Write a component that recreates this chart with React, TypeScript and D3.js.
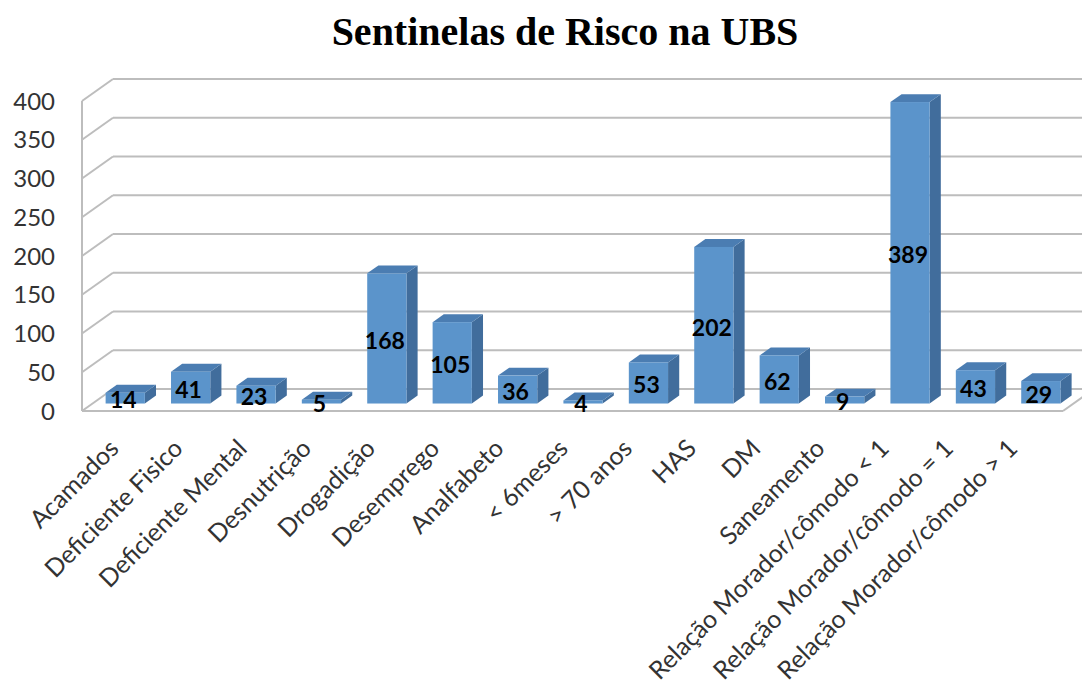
import React from "react";
import * as d3 from "d3";

const categories = [
  "Acamados",
  "Deficiente Fisico",
  "Deficiente Mental",
  "Desnutrição",
  "Drogadição",
  "Desemprego",
  "Analfabeto",
  "< 6meses",
  "> 70 anos",
  "HAS",
  "DM",
  "Saneamento",
  "Relação Morador/cômodo < 1",
  "Relação Morador/cômodo = 1",
  "Relação Morador/cômodo > 1",
];
const values = [14, 41, 23, 5, 168, 105, 36, 4, 53, 202, 62, 9, 389, 43, 29];
const yTicks = [0, 50, 100, 150, 200, 250, 300, 350, 400];
const title = "Sentinelas de Risco na UBS";

const W = 1082;
const H = 692;
const X0 = 82;
const X1 = 1063;
const Y0 = 411;
const Y1 = 101;
const DX = 31;
const DY = 22;
const Z0 = 0.34;
const Z1 = 0.7;

export default function App() {
  const x = d3.scaleBand<string>().domain(categories).range([X0, X1]);
  const xLab = d3.scaleBand<string>().domain(categories).range([84, 1047]);
  const y = d3.scaleLinear().domain([0, 400]).range([Y0, Y1]);
  const bw = x.bandwidth() * 0.6;
  const px = (xx: number, z: number) => xx + z * DX;
  const py = (yy: number, z: number) => yy - z * DY;
  const pts = (arr: [number, number][]) => arr.map((p) => p.join(",")).join(" ");
  const grid = "#bdbdbd";
  const axisFont = "Lato, 'Open Sans', sans-serif";

  return (
    <svg
      width={W}
      height={H}
      style={{ position: "absolute", left: 0, top: 0, background: "#fff" }}
    >
      <rect x={0} y={0} width={W} height={H} fill="#fff" />
      <text
        x={565}
        y={45}
        textAnchor="middle"
        fontFamily="'Liberation Serif', 'Times New Roman', serif"
        fontWeight="bold"
        fontSize={40}
        fill="#000"
      >
        {title}
      </text>
      {/* back wall gridlines + side wall diagonals */}
      {yTicks.map((t) => (
        <g key={"g" + t}>
          <line
            x1={px(X0, 1)}
            x2={W + 40}
            y1={py(y(t), 1)}
            y2={py(y(t), 1)}
            stroke={grid}
            strokeWidth={2}
          />
          <line
            x1={X0}
            y1={y(t)}
            x2={px(X0, 1)}
            y2={py(y(t), 1)}
            stroke={grid}
            strokeWidth={2}
          />
        </g>
      ))}
      {/* left wall front edge */}
      <line x1={X0} x2={X0} y1={y(0)} y2={y(400)} stroke={grid} strokeWidth={2} />
      {/* floor front edge and right edge */}
      <line x1={X0} x2={X1} y1={Y0} y2={Y0} stroke={grid} strokeWidth={2} />
      <line x1={X1} y1={Y0} x2={px(X1, 1)} y2={py(Y0, 1)} stroke={grid} strokeWidth={2} />
      {/* y tick labels */}
      {yTicks.map((t) => (
        <text
          key={"t" + t}
          x={55}
          y={y(t)}
          dy="0.36em"
          textAnchor="end"
          fontFamily={axisFont}
          fontSize={24}
          fill="#333"
        >
          {t}
        </text>
      ))}
      {/* bars */}
      {categories.map((c, i) => {
        const cx = (x(c) as number) + x.bandwidth() / 2;
        const xl = cx - bw / 2;
        const xr = cx + bw / 2;
        const yt = y(values[i]);
        const yb = y(0);
        return (
          <g key={"b" + i}>
            <polygon
              points={pts([
                [px(xr, Z0), py(yt, Z0)],
                [px(xr, Z1), py(yt, Z1)],
                [px(xr, Z1), py(yb, Z1)],
                [px(xr, Z0), py(yb, Z0)],
              ])}
              fill="#416d9c"
            />
            <polygon
              points={pts([
                [px(xl, Z0), py(yt, Z0)],
                [px(xr, Z0), py(yt, Z0)],
                [px(xr, Z1), py(yt, Z1)],
                [px(xl, Z1), py(yt, Z1)],
              ])}
              fill="#4b7db2"
            />
            <rect
              x={px(xl, Z0)}
              y={py(yt, Z0)}
              width={bw}
              height={yb - yt}
              fill="#5b94cb"
            />
          </g>
        );
      })}
      {/* data labels */}
      {categories.map((c, i) => {
        const cx = (x(c) as number) + x.bandwidth() / 2;
        const yt = y(values[i]);
        const yb = y(0);
        return (
          <text
            key={"l" + i}
            x={px(cx, Z0) - 2}
            y={py((yt + yb) / 2, Z0) + 2}
            dy="0.36em"
            textAnchor="middle"
            fontFamily={axisFont}
            fontWeight="bold"
            fontSize={23}
            fill="#000"
          >
            {values[i]}
          </text>
        );
      })}
      {/* category labels */}
      {categories.map((c) => {
        const lx = (xLab(c) as number) + xLab.bandwidth() / 2;
        return (
          <text
            key={"c" + c}
            transform={`translate(${lx + 4},${450}) rotate(-45)`}
            textAnchor="end"
            fontFamily={axisFont}
            fontSize={25}
            fill="#333"
          >
            {c}
          </text>
        );
      })}
    </svg>
  );
}
